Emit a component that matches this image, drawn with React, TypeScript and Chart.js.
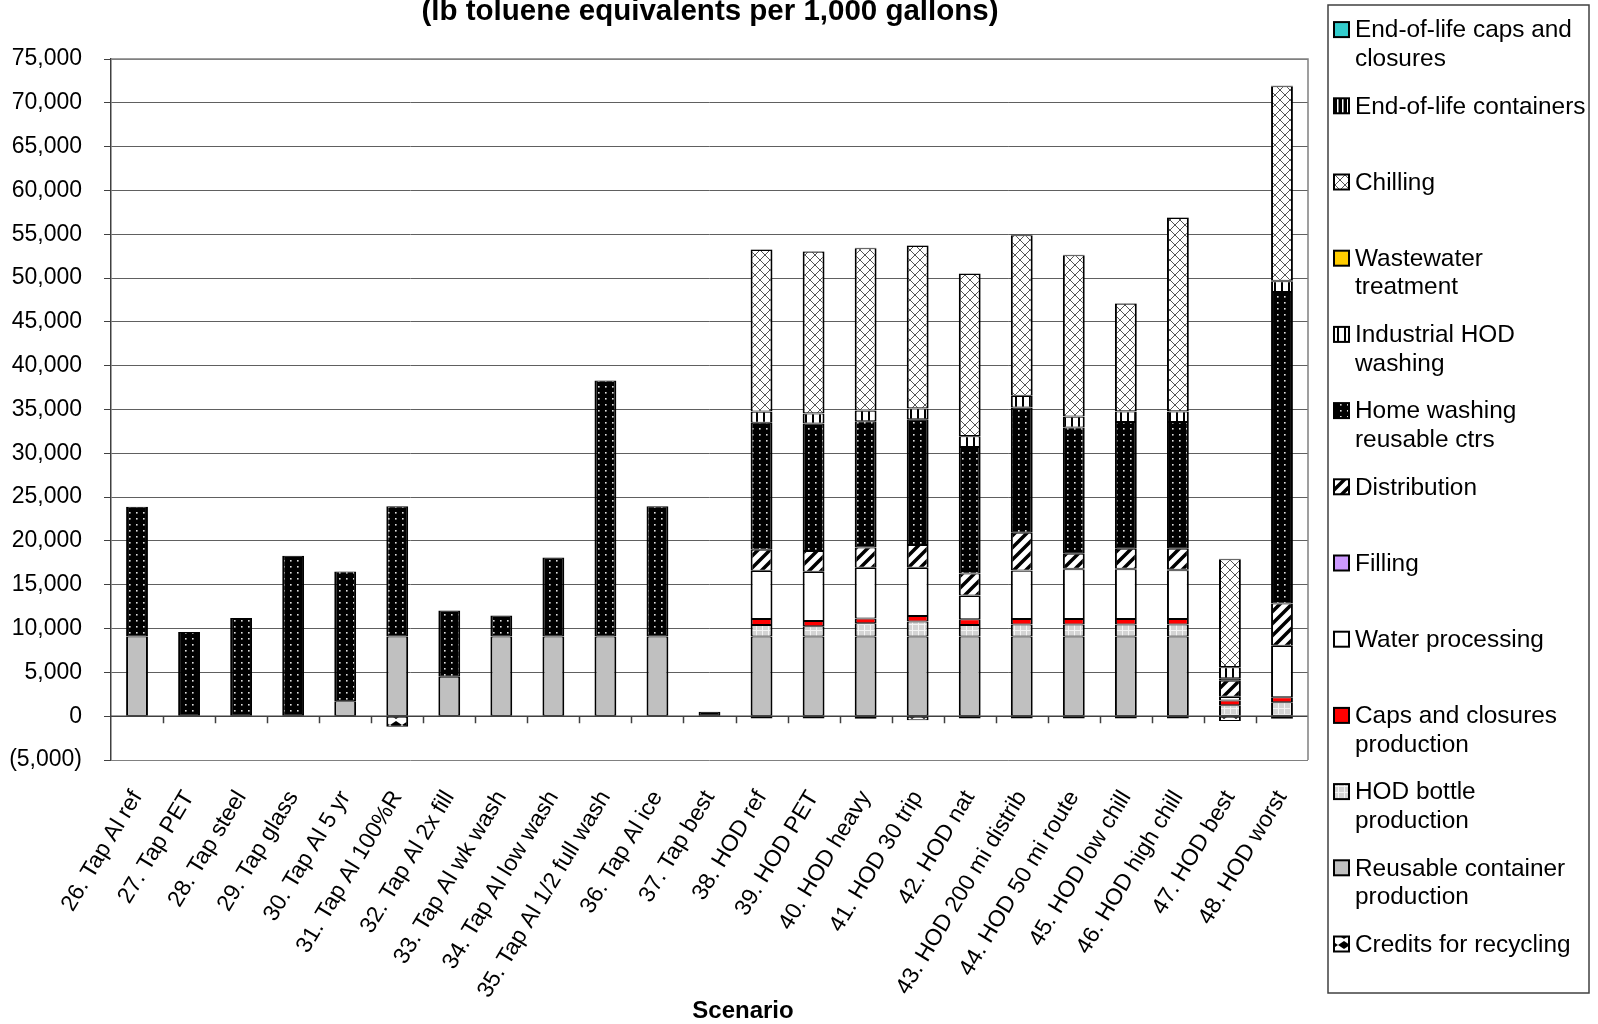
import { useEffect, useRef } from "react";
import { Chart, registerables } from "chart.js";

Chart.register(...registerables);

const FONT = "'Liberation Sans', Arial, Helvetica, sans-serif";

const scenarios = [
  "26. Tap Al ref",
  "27. Tap PET",
  "28. Tap steel",
  "29. Tap glass",
  "30. Tap Al 5 yr",
  "31. Tap Al 100%R",
  "32. Tap Al 2x fill",
  "33. Tap Al wk wash",
  "34. Tap Al low wash",
  "35. Tap Al 1/2 full wash",
  "36. Tap Al ice",
  "37. Tap best",
  "38. HOD ref",
  "39. HOD PET",
  "40. HOD heavy",
  "41. HOD 30 trip",
  "42. HOD nat",
  "43. HOD 200 mi distrib",
  "44. HOD 50 mi route",
  "45. HOD low chill",
  "46. HOD high chill",
  "47. HOD best",
  "48. HOD worst",
];

// lb toluene equivalents per 1,000 gallons, one value per scenario
const creditsForRecycling = [0, 0, 0, 0, 0, -1200, 0, 0, 0, 0, 0, 0, -250, -250, -300, -450, -250, -250, -250, -250, -250, -550, -300];
const reusableContainer = [9100, 0, 0, 0, 1700, 9100, 4500, 9100, 9100, 9100, 9100, 0, 9100, 9100, 9100, 9100, 9100, 9100, 9100, 9100, 9100, 0, 0];
const hodBottle = [0, 0, 0, 0, 0, 0, 0, 0, 0, 0, 0, 0, 1300, 1150, 1500, 1700, 1300, 1350, 1350, 1350, 1350, 1250, 1600];
const capsClosures = [0, 0, 0, 0, 0, 0, 0, 0, 0, 0, 0, 0, 700, 600, 550, 620, 650, 650, 650, 650, 650, 550, 550];
const waterProcessing = [0, 0, 0, 0, 0, 0, 0, 0, 0, 0, 0, 0, 5460, 5600, 5760, 5490, 2680, 5490, 5680, 5680, 5560, 380, 5860];
const filling = [0, 0, 0, 0, 0, 0, 0, 0, 0, 0, 0, 0, 40, 40, 40, 40, 40, 40, 40, 40, 40, 30, 40];
const distribution = [0, 0, 0, 0, 0, 0, 0, 0, 0, 0, 0, 0, 2400, 2370, 2290, 2600, 2520, 4310, 1720, 2290, 2410, 1830, 4800];
const homeWashing = [14800, 9600, 11200, 18300, 14800, 14850, 7550, 2400, 9000, 29200, 14850, 500, 14500, 14530, 14420, 14340, 14430, 14300, 14410, 14450, 14450, 300, 35560];
const industrialWashing = [0, 0, 0, 0, 0, 0, 0, 0, 0, 0, 0, 0, 1250, 1150, 1190, 1220, 1220, 1300, 1220, 1220, 1220, 1240, 1240];
const wastewater = [0, 0, 0, 0, 0, 0, 0, 0, 0, 0, 0, 0, 30, 30, 30, 30, 30, 30, 30, 30, 30, 20, 30];
const chilling = [0, 0, 0, 0, 0, 0, 0, 0, 0, 0, 0, 0, 18420, 18440, 18510, 18520, 18480, 18310, 18390, 12250, 22050, 12300, 22210];
const eolContainers = [0, 0, 0, 0, 0, 0, 0, 0, 0, 0, 0, 0, 60, 60, 60, 60, 60, 60, 60, 60, 60, 40, 60];
const eolCaps = [0, 0, 0, 0, 0, 0, 0, 0, 0, 0, 0, 0, 20, 20, 20, 20, 20, 20, 20, 20, 20, 20, 20];

const yMin = -5000;
const yMax = 75000;
const yStep = 5000;

const titleText = "(lb toluene equivalents per 1,000 gallons)";
const xTitleText = "Scenario";

function tile(w: number, h: number, paint: (g: CanvasRenderingContext2D) => void): CanvasPattern | string {
  const c = document.createElement("canvas");
  c.width = w;
  c.height = h;
  const g = c.getContext("2d");
  if (!g) return "#000";
  paint(g);
  return g.createPattern(c, "repeat") || "#000";
}

function makeFills() {
  const dots = tile(7, 6, (g) => {
    g.fillStyle = "#000";
    g.fillRect(0, 0, 7, 6);
    g.fillStyle = "#e0e0e0";
    g.fillRect(3, 2, 1.6, 1.6);
  });
  const crossHatch = tile(10, 10, (g) => {
    g.fillStyle = "#fff";
    g.fillRect(0, 0, 10, 10);
    g.strokeStyle = "#555";
    g.lineWidth = 1;
    g.beginPath();
    g.moveTo(-1, -1);
    g.lineTo(11, 11);
    g.moveTo(11, -1);
    g.lineTo(-1, 11);
    g.stroke();
  });
  const wideDiagonal = tile(12, 12, (g) => {
    g.fillStyle = "#fff";
    g.fillRect(0, 0, 12, 12);
    g.strokeStyle = "#000";
    g.lineWidth = 3.5;
    g.beginPath();
    g.moveTo(-6, 6);
    g.lineTo(6, -6);
    g.moveTo(-1, 13);
    g.lineTo(13, -1);
    g.moveTo(6, 18);
    g.lineTo(18, 6);
    g.stroke();
  });
  const lightVertical = tile(7, 1, (g) => {
    g.fillStyle = "#fff";
    g.fillRect(0, 0, 7, 1);
    g.fillStyle = "#000";
    g.fillRect(0, 0, 2, 1);
  });
  const darkVertical = tile(5, 1, (g) => {
    g.fillStyle = "#000";
    g.fillRect(0, 0, 5, 1);
    g.fillStyle = "#fff";
    g.fillRect(2, 0, 1.5, 1);
  });
  const smallGrid = tile(6, 6, (g) => {
    g.fillStyle = "#d4d4d4";
    g.fillRect(0, 0, 6, 6);
    g.fillStyle = "#f4f4f4";
    g.fillRect(0, 0, 6, 1);
    g.fillRect(0, 0, 1, 6);
  });
  const bowTie = tile(12, 10, (g) => {
    g.fillStyle = "#fff";
    g.fillRect(0, 0, 12, 10);
    g.fillStyle = "#000";
    g.beginPath();
    g.moveTo(0, 1);
    g.lineTo(6, 5);
    g.lineTo(0, 9);
    g.closePath();
    g.moveTo(12, 1);
    g.lineTo(6, 5);
    g.lineTo(12, 9);
    g.closePath();
    g.fill();
  });
  return { dots, crossHatch, wideDiagonal, lightVertical, darkVertical, smallGrid, bowTie };
}

function wrapWords(ctx: CanvasRenderingContext2D, text: string, maxW: number): string[] {
  const words = text.split(" ");
  const lines: string[] = [];
  let cur = "";
  for (const w of words) {
    const test = cur ? cur + " " + w : w;
    if (cur && ctx.measureText(test).width > maxW) {
      lines.push(cur);
      cur = w;
    } else {
      cur = test;
    }
  }
  if (cur) lines.push(cur);
  return lines;
}

const decorations = {
  id: "decorations",
  beforeDatasetsDraw(chart: any) {
    const { ctx, chartArea } = chart;
    const y = chart.scales.y;
    const zeroY = y.getPixelForValue(0);
    const n = chart.data.labels.length;
    const step = (chartArea.right - chartArea.left) / n;
    ctx.save();
    ctx.strokeStyle = "#404040";
    ctx.lineWidth = 1.5;
    ctx.beginPath();
    ctx.moveTo(chartArea.left, zeroY);
    ctx.lineTo(chartArea.right, zeroY);
    for (let i = 1; i < n; i++) {
      const x = Math.round(chartArea.left + i * step) + 0.5;
      ctx.moveTo(x, zeroY);
      ctx.lineTo(x, zeroY + 7);
    }
    ctx.stroke();
    ctx.restore();
  },
  afterDraw(chart: any) {
    const { ctx, chartArea } = chart;
    ctx.save();

    // plot frame, top and right edges
    ctx.strokeStyle = "#808080";
    ctx.lineWidth = 1.5;
    ctx.beginPath();
    ctx.moveTo(chartArea.left, chartArea.top);
    ctx.lineTo(chartArea.right, chartArea.top);
    ctx.lineTo(chartArea.right, chartArea.bottom);
    ctx.stroke();

    // chart title
    ctx.fillStyle = "#000";
    ctx.font = `bold 29.5px ${FONT}`;
    ctx.textAlign = "center";
    ctx.textBaseline = "alphabetic";
    ctx.fillText(titleText, 710, 19.5);

    // x axis title
    ctx.font = `bold 24px ${FONT}`;
    ctx.fillText(xTitleText, 743, 1018);

    // legend box
    const bx = 1328;
    const by = 5;
    const bw = 261;
    const bh = 988;
    ctx.fillStyle = "#fff";
    ctx.fillRect(bx, by, bw, bh);
    ctx.strokeStyle = "#404040";
    ctx.lineWidth = 1.5;
    ctx.strokeRect(bx, by, bw, bh);

    ctx.font = `24.4px ${FONT}`;
    ctx.textAlign = "left";
    ctx.textBaseline = "middle";
    const items = chart.data.datasets.slice().reverse();
    items.forEach((ds: any, i: number) => {
      const cy = 29.6 + i * 76.2;
      ctx.fillStyle = ds.backgroundColor;
      ctx.fillRect(1334, cy - 7.5, 15, 15);
      ctx.strokeStyle = "#000";
      ctx.lineWidth = 2;
      ctx.strokeRect(1334, cy - 7.5, 15, 15);
      ctx.fillStyle = "#000";
      const lines = wrapWords(ctx, ds.label, 233);
      lines.forEach((line, k) => {
        ctx.fillText(line, 1355, cy + 1 + k * 28.5);
      });
    });
    ctx.restore();
  },
};

function formatTick(v: number): string {
  const s = Math.abs(v).toLocaleString("en-US");
  return v < 0 ? `(${s})` : s;
}

export default function App() {
  const ref = useRef<HTMLCanvasElement>(null);

  useEffect(() => {
    const canvas = ref.current;
    if (!canvas) return;
    const f = makeFills();

    const series = [
      { label: "Credits for recycling", data: creditsForRecycling, fill: f.bowTie },
      { label: "Reusable container production", data: reusableContainer, fill: "#C0C0C0" },
      { label: "HOD bottle production", data: hodBottle, fill: f.smallGrid },
      { label: "Caps and closures production", data: capsClosures, fill: "#FF0000" },
      { label: "Water processing", data: waterProcessing, fill: "#FFFFFF" },
      { label: "Filling", data: filling, fill: "#CC99FF" },
      { label: "Distribution", data: distribution, fill: f.wideDiagonal },
      { label: "Home washing reusable ctrs", data: homeWashing, fill: f.dots },
      { label: "Industrial HOD washing", data: industrialWashing, fill: f.lightVertical },
      { label: "Wastewater treatment", data: wastewater, fill: "#FFCC00" },
      { label: "Chilling", data: chilling, fill: f.crossHatch },
      { label: "End-of-life containers", data: eolContainers, fill: f.darkVertical },
      { label: "End-of-life caps and closures", data: eolCaps, fill: "#33CCCC" },
    ];

    const chart = new Chart(canvas, {
      type: "bar",
      data: {
        labels: scenarios,
        datasets: series.map((s) => ({
          label: s.label,
          data: s.data,
          backgroundColor: s.fill as any,
          borderColor: "#000",
          borderWidth: { top: 1, bottom: 1, left: 2, right: 2 } as any,
          borderSkipped: false as any,
          barPercentage: 0.42,
          categoryPercentage: 1,
        })),
      },
      options: {
        responsive: false,
        animation: false,
        devicePixelRatio: 1,
        layout: { padding: { top: 59, right: 290, bottom: 0, left: 0 } },
        plugins: {
          legend: { display: false },
          title: { display: false },
          tooltip: { enabled: false },
        },
        scales: {
          x: {
            stacked: true,
            offset: true,
            grid: { display: false, drawTicks: false },
            border: { display: false },
            ticks: {
              autoSkip: false,
              minRotation: 59,
              maxRotation: 59,
              padding: 26,
              color: "#000",
              font: { family: FONT, size: 23 },
            },
            afterFit(scale: any) {
              scale.height = 264;
            },
          },
          y: {
            stacked: true,
            min: yMin,
            max: yMax,
            grid: {
              color: (c: any) => (c.tick && (c.tick.value === yMin || c.tick.value === yMax) ? "#808080" : "#606060"),
              lineWidth: 1,
              tickLength: 7,
              tickColor: "#404040",
            },
            border: { display: true, color: "#404040", width: 1.5 },
            ticks: {
              stepSize: yStep,
              padding: 22,
              color: "#000",
              font: { family: FONT, size: 23 },
              callback: (v: any) => formatTick(Number(v)),
            },
            afterFit(scale: any) {
              scale.width = 111;
            },
          },
        },
      },
      plugins: [decorations],
    });

    return () => chart.destroy();
  }, []);

  return (
    <div style={{ position: "absolute", left: 0, top: 0, width: 1598, height: 1024, background: "#fff" }}>
      <canvas ref={ref} width={1598} height={1024} style={{ display: "block", width: 1598, height: 1024 }} />
    </div>
  );
}
